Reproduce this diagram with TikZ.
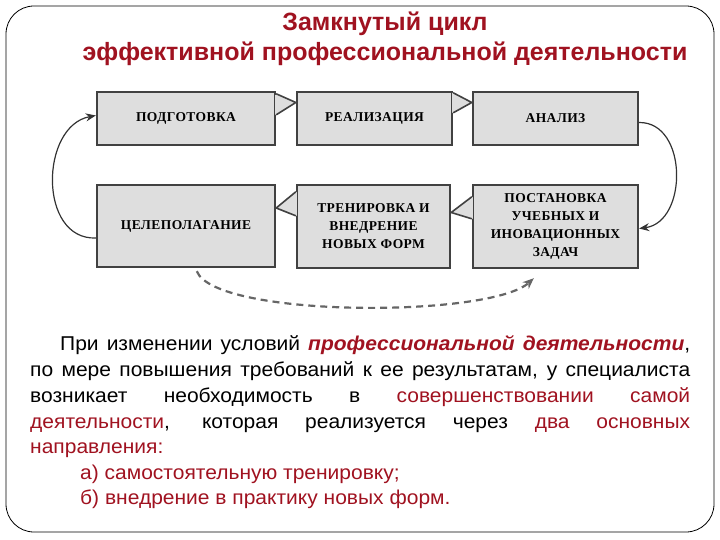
\documentclass[tikz,border=0pt]{standalone}
\usepackage{fontspec}
\setmainfont{Liberation Sans}[FakeStretch=1.05]
\newfontfamily\titlefont{Liberation Sans}
\newfontfamily\boxfont[LetterSpace=3]{Liberation Serif}
\usetikzlibrary{arrows.meta,calc}
\definecolor{dred}{RGB}{160,18,32}
\definecolor{boxfill}{RGB}{222,222,222}
\definecolor{boxline}{RGB}{65,65,65}
\tikzset{
  box/.style={draw=boxline, line width=2.4pt, fill=boxfill, align=center,
    font=\boxfont\bfseries\fontsize{13.5}{18}\selectfont, text=black, inner sep=0pt},
  ptr/.style={draw=boxline, line width=1.6pt, fill=boxfill, line join=miter},
  curvearrow/.style={draw=black!80, line width=1.2pt, -{Stealth[length=10pt,width=8pt]}},
  dasharrow/.style={draw=black!60, line width=2.2pt, dash pattern=on 7pt off 5pt, -{Stealth[length=11pt,width=9pt]}},
  body/.style={anchor=base west, inner sep=0pt, font=\fontsize{20}{25}\selectfont}
}
\begin{document}
\begin{tikzpicture}[x=1pt,y=-1pt]
\useasboundingbox (0,0) rectangle (720,540);
\draw[black, line width=0.8pt, rounded corners=28pt] (6,6) rectangle (714,532);
% title
\node[font=\titlefont\bfseries\fontsize{25}{30}\selectfont, text=dred, anchor=base] (t1) at (385,31) {Замкнутый цикл};
\node[font=\titlefont\bfseries\fontsize{25}{30}\selectfont, text=dred, anchor=base] (t2) at (385,61) {эффективной профессиональной деятельности};
% boxes
\node[box, minimum width=178pt, minimum height=53pt] (pod) at (186,118.5) {ПОДГОТОВКА};
\node[box, minimum width=155pt, minimum height=53pt] (rea) at (374.5,118.5) {РЕАЛИЗАЦИЯ};
\node[box, minimum width=165pt, minimum height=53pt] (ana) at (555.5,118.5) {АНАЛИЗ};
\node[box, minimum width=178pt, minimum height=82pt] (cel) at (186,226) {ЦЕЛЕПОЛАГАНИЕ};
\node[box, minimum width=153pt, minimum height=83pt] (tre) at (373.5,226.5) {ТРЕНИРОВКА И\\ВНЕДРЕНИЕ\\НОВЫХ ФОРМ};
\node[box, minimum width=165pt, minimum height=83pt] (pos) at (555.5,226.5) {ПОСТАНОВКА\\УЧЕБНЫХ И\\ИНОВАЦИОННЫХ\\ЗАДАЧ};
% pointers
\fill[boxfill] ($(pod.north east)+(-1,4)$) -- ($(rea.west)+(0,-16)$) -- ($(pod.north east)+(-1,24)$) -- cycle;
\draw[ptr] ($(pod.north east)+(0,3)$) -- ($(rea.west)+(0,-16)$) -- ($(pod.north east)+(0,24)$);
\fill[boxfill] ($(rea.north east)+(-1,2)$) -- ($(ana.west)+(0,-16)$) -- ($(rea.north east)+(-1,22)$) -- cycle;
\draw[ptr] ($(rea.north east)+(0,2)$) -- ($(ana.west)+(0,-16)$) -- ($(rea.north east)+(0,22)$);
\fill[boxfill] ($(tre.north west)+(1,8)$) -- ($(cel.east)+(0,-18)$) -- ($(tre.north west)+(1,32)$) -- cycle;
\draw[ptr] ($(tre.north west)+(0,8)$) -- ($(cel.east)+(0,-18)$) -- ($(tre.north west)+(0,32)$);
\fill[boxfill] ($(pos.north west)+(1,13)$) -- ($(tre.east)+(0,-14)$) -- ($(pos.north west)+(1,35)$) -- cycle;
\draw[ptr] ($(pos.north west)+(0,13)$) -- ($(tre.east)+(0,-14)$) -- ($(pos.north west)+(0,35)$);
% curved arrows
\draw[curvearrow] ($(cel.west)+(0,12)$) .. controls (38,240) and (40,126) .. ($(pod.west)+(0,-3)$);
\draw[curvearrow] ($(ana.east)+(0,4)$) .. controls (688,122) and (688,222) .. ($(pos.east)+(0,2)$);
\draw[dasharrow] ($(cel.south west)+(101,3)$) .. controls (215,318) and (490,318) .. ($(pos.south west)+(62,9)$);
% text
\node[body] (l1) at (60,350) {\makebox[630pt][s]{При изменении условий \textcolor{dred}{\bfseries\itshape профессиональной деятельности},}};
\node[body] (l2) at (30,376) {\makebox[660pt][s]{по мере повышения требований к ее результатам, у специалиста}};
\node[body] (l3) at (30,402) {\makebox[660pt][s]{возникает необходимость в \textcolor{dred}{совершенствовании} \textcolor{dred}{самой}}};
\node[body] (l4) at (30,428) {\makebox[660pt][s]{\textcolor{dred}{деятельности}, которая реализуется через \textcolor{dred}{два} \textcolor{dred}{основных}}};
\node[body, text=dred] (l5) at (30,453) {направления:};
\node[body, text=dred] (l6) at (80,479) {а) самостоятельную тренировку;};
\node[body, text=dred] (l7) at (80,504) {б) внедрение в практику новых форм.};
\end{tikzpicture}
\end{document}
